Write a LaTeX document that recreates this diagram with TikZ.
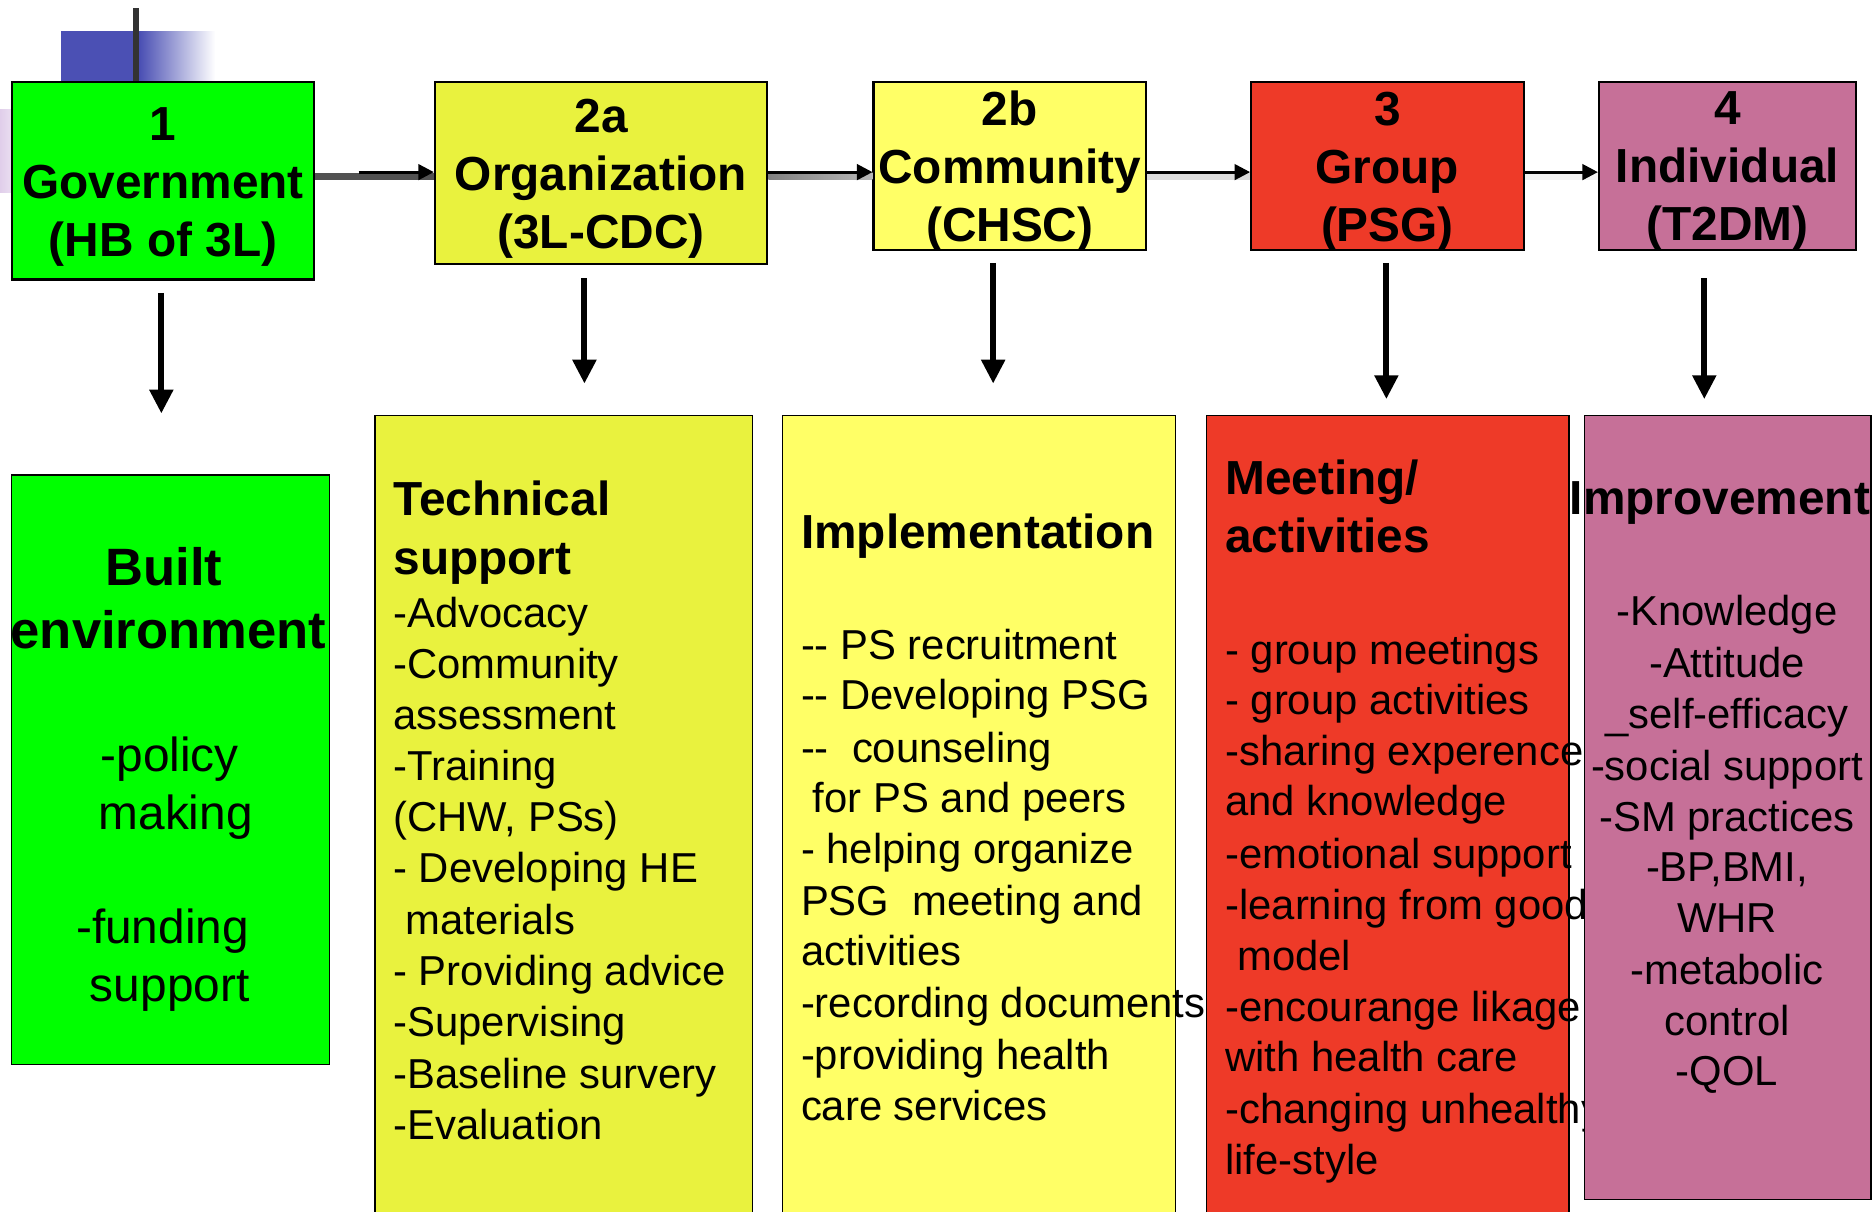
\documentclass[tikz,border=0pt]{standalone}
\usepackage{fontspec}
\setmainfont{Liberation Sans}
\usetikzlibrary{arrows.meta,calc}
\definecolor{govgreen}{RGB}{0,255,0}
\definecolor{orgyellow}{RGB}{233,242,62}
\definecolor{comyellow}{RGB}{255,255,102}
\definecolor{grpred}{RGB}{238,58,40}
\definecolor{indpink}{RGB}{198,112,152}
\definecolor{barblue}{RGB}{75,80,180}
\definecolor{lavender}{RGB}{224,206,234}
\begin{document}
\begin{tikzpicture}[x=1pt,y=-1pt,
  levelbox/.style={draw=black,line width=1.8pt,anchor=north west,inner sep=0pt},
  leveltext/.style={inner sep=0pt,align=center,font=\fontsize{40}{48.5}\selectfont\bfseries},
  panel/.style={draw=black,line width=1.3pt,anchor=north west,inner sep=0pt},
  head/.style={font=\fontsize{40}{49}\selectfont\bfseries,inner sep=0pt,yshift=-11pt},
  bighead/.style={font=\fontsize{44}{53}\selectfont\bfseries,inner sep=0pt,yshift=-13pt},
  body/.style={font=\fontsize{35}{43}\selectfont,inner sep=0pt,yshift=-10pt},
  flow/.style={line width=2.4pt,-{Triangle[width=13pt,length=13pt]}},
  down/.style={line width=5pt,-{Triangle[width=19pt,length=20pt]}},
]
\useasboundingbox (0,0) rectangle (1568,1014);

% corner ornament
\shade[left color=lavender,right color=white] (0,92) rectangle (30,161);
\fill[barblue] (51,26) rectangle (117,68);
\shade[left color=barblue,right color=white] (117,26) rectangle (180,68);
\fill[black!80] (111.5,7) rectangle (116.5,68);

% the five levels
\node[levelbox,fill=govgreen,minimum width=253pt,minimum height=165pt] (gov) at (9,68) {};
\node[levelbox,fill=orgyellow,minimum width=278pt,minimum height=152pt] (org) at (363,68) {};
\node[levelbox,fill=comyellow,minimum width=228pt,minimum height=140pt] (comm) at (730,68) {};
\node[levelbox,fill=grpred,minimum width=228pt,minimum height=140pt] (grp) at (1046,68) {};
\node[levelbox,fill=indpink,minimum width=215pt,minimum height=140pt] (ind) at (1337,68) {};
\node[leveltext] (gov-t) at ([yshift=-5pt]gov.center) {1\\Government\\(HB of 3L)};
\node[leveltext] (org-t) at ([yshift=-5pt]org.center) {2a\\Organization\\(3L-CDC)};
\node[leveltext] (comm-t) at ([yshift=-4.5pt]comm.center) {2b\\Community\\(CHSC)};
\node[leveltext] (grp-t) at ([yshift=-4.5pt]grp.center) {3\\Group\\(PSG)};
\node[leveltext] (ind-t) at ([yshift=-4.5pt]ind.center) {4\\Individual\\(T2DM)};

% horizontal links between levels
\coordinate (arrowrow) at (0,144);
\coordinate (shadowrow) at (0,147.5);
\coordinate (govtail) at (300,144);
\draw[line width=6pt,black!68] (gov.east |- shadowrow) -- (org.west |- shadowrow);
\shade[left color=black!50,right color=black!28] ($(org.east |- shadowrow)+(0,-3)$) rectangle ($(comm.west |- shadowrow)+(0,3)$);
\draw[line width=6pt,black!14] (comm.east |- shadowrow) -- (grp.west |- shadowrow);
\draw[line width=6pt,black!6] (grp.east |- shadowrow) -- (ind.west |- shadowrow);
\draw[flow] (govtail) -- (org.west |- arrowrow);
\draw[flow] (org.east |- arrowrow) -- (comm.west |- arrowrow);
\draw[flow] (comm.east |- arrowrow) -- (grp.west |- arrowrow);
\draw[flow] (grp.east |- arrowrow) -- (ind.west |- arrowrow);

% downward arrows
\coordinate (gd1) at (135,245);  \coordinate (gd2) at (135,346);
\coordinate (od1) at (489,233);  \coordinate (od2) at (489,321);
\coordinate (cd1) at (831,220);  \coordinate (cd2) at (831,321);
\coordinate (pd1) at (1160,220); \coordinate (pd2) at (1160,334);
\coordinate (id1) at (1426,233); \coordinate (id2) at (1426,334);
\draw[down] (gd1) -- (gd2);
\draw[down] (od1) -- (od2);
\draw[down] (cd1) -- (cd2);
\draw[down] (pd1) -- (pd2);
\draw[down] (id1) -- (id2);

% government panel
\node[panel,fill=govgreen,minimum width=266pt,minimum height=493pt] (built) at (9,397) {};
\node[bighead,anchor=mid] (built-h1) at (137,474) {Built};
\node[bighead,anchor=mid] (built-h2) at (141,527) {environment};
\foreach \x/\y/\t [count=\i] in {142/633/-policy, 147/681/making, 136/777/-funding, 142/825/support}
  \node[body,font=\fontsize{40}{48}\selectfont,anchor=mid] (built-\i) at (\x,\y) {\t};

% organization panel
\node[panel,fill=orgyellow,minimum width=316pt,minimum height=700pt] (tech) at (313,347) {};
\node[head,anchor=mid west] (tech-h1) at (329,418) {Technical};
\node[head,anchor=mid west] (tech-h2) at (329,467) {support};
\foreach \x/\y/\t [count=\i] in {329/512/-Advocacy, 329/555/-Community, 329/598/assessment,
    329/640/-Training, 329/683/{(CHW, PSs)}, 329/726/- Developing HE, 339/769/materials,
    329/812/- Providing advice, 329/855/-Supervising, 329/898/-Baseline survery, 329/941/-Evaluation}
  \node[body,anchor=mid west] (tech-\i) at (\x,\y) {\t};

% community panel
\node[panel,fill=comyellow,minimum width=329pt,minimum height=700pt] (impl) at (654,347) {};
\node[head,anchor=mid west] (impl-h) at (670,445) {Implementation};
\foreach \x/\y/\t [count=\i] in {670/539/-\kern0pt- PS recruitment, 670/581/-\kern0pt- Developing PSG,
    670/625/-\kern0pt-\ \ counseling, 680/667/for PS and peers, 670/710/- helping organize,
    670/753/PSG\ \ meeting and, 670/795/activities, 670/839/-recording documents,
    670/882/-providing health, 670/925/care services}
  \node[body,anchor=mid west] (impl-\i) at (\x,\y) {\t};

% group panel
\node[panel,fill=grpred,minimum width=303pt,minimum height=700pt] (meet) at (1009,347) {};
\node[head,anchor=mid west] (meet-h1) at (1025,400) {Meeting/};
\node[head,anchor=mid west] (meet-h2) at (1025,449) {activities};
\foreach \x/\y/\t [count=\i] in {1025/543/- group meetings, 1025/585/- group activities,
    1025/628/-sharing experence, 1025/670/and knowledge, 1025/714/-emotional support,
    1025/757/-learning from good, 1035/799/model, 1025/842/-encourange likage,
    1025/884/with health care, 1025/927/-changing unhealthy, 1025/970/life-style}
  \node[body,anchor=mid west] (meet-\i) at (\x,\y) {\t};

% individual panel
\node[panel,fill=indpink,minimum width=240pt,minimum height=656pt] (impr) at (1325,347) {};
\node[head,anchor=mid] (impr-h) at (1439,417) {Improvement};
\foreach \y/\t [count=\i] in {511/-Knowledge, 554/-Attitude, 597/\_self-efficacy,
    640/-social support, 683/-SM practices, 725/{-BP,BMI,}, 768/WHR, 811/-metabolic,
    854/control, 896/-QOL}
  \node[body,anchor=mid] (impr-\i) at (1445,\y) {\t};
\end{tikzpicture}
\end{document}
